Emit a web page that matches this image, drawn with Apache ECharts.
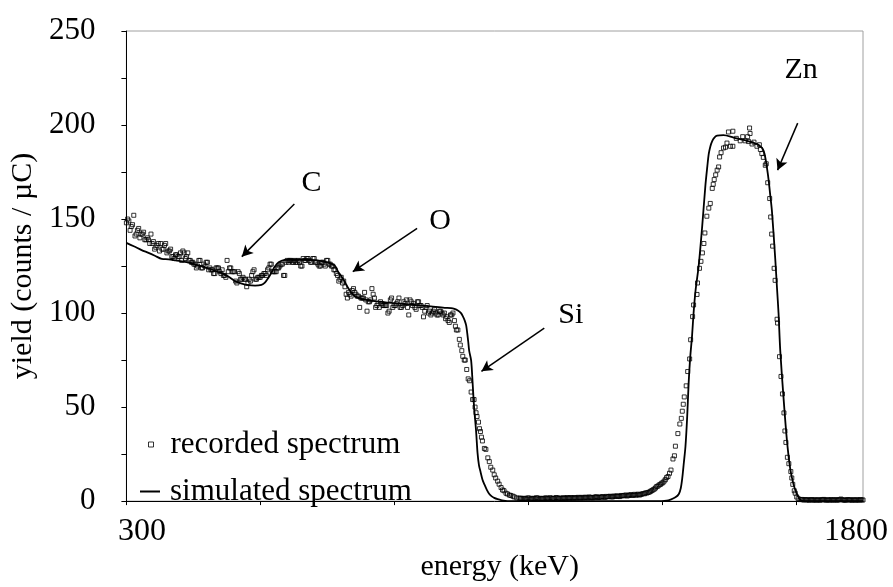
<!DOCTYPE html>
<html>
<head>
<meta charset="utf-8">
<script src="https://cdn.jsdelivr.net/npm/echarts@6/dist/echarts.min.js"></script>
<style>html,body{margin:0;padding:0;background:#fff}#c{width:893px;height:587px}</style>
</head>
<body>
<div id="c"></div>
<script>
// ---- data ----
const xTickValues = [300, 573, 845, 1118, 1391, 1664];
const xLabelValues = [300, 1800];

const recordedLow = [[300,148],[305,149],[310,146],[315,152],[320,142],[325,145],[330,142],[335,143],[340,139],[345,139],[350,142],[355,138],[360,135],[365,137],[370,137],[375,134],[380,137],[385,133],[390,134],[395,130],[400,131],[405,130],[410,132],[415,133],[420,129],[425,132],[430,128],[435,127],[440,126],[445,125],[450,128],[455,124],[460,125],[465,127],[470,124],[475,123],[480,121],[485,124],[490,122],[495,123],[500,120],[505,128],[510,124],[515,122],[520,122],[525,116],[530,121],[535,118],[540,118],[545,114],[550,118],[555,120],[560,123],[565,118],[570,119],[575,120],[580,121],[585,120],[590,124],[595,126],[600,122],[605,122],[610,124],[615,126],[620,120],[625,127],[630,127],[635,128],[640,127],[645,127],[650,128],[655,125],[660,129],[665,128],[670,129],[675,127],[680,129],[685,127],[690,126],[695,125],[700,127],[705,125],[710,128],[715,126],[720,125],[725,123],[730,120],[735,118],[740,116]];

const recordedLowB = [[302.5,150],[307.5,144],[312.5,147],[317.5,141],[322.5,144],[327.5,140],[332.5,142],[337.5,139],[342.5,140],[347.5,137],[352.5,137],[357.5,134],[362.5,136],[367.5,133],[372.5,134],[377.5,136],[382.5,132],[387.5,133],[392.5,130],[397.5,129],[402.5,131],[407.5,130],[412.5,128],[417.5,132],[422.5,130],[427.5,128],[432.5,127],[437.5,126],[442.5,124],[447.5,128],[452.5,124],[457.5,126],[462.5,127],[467.5,123],[472.5,123],[477.5,121],[482.5,124],[487.5,124],[492.5,121],[497.5,120],[502.5,119],[507.5,122],[512.5,124],[517.5,122],[522.5,117],[527.5,122],[532.5,118],[537.5,119],[542.5,118],[547.5,116],[552.5,117],[557.5,122],[562.5,118],[567.5,119],[572.5,119],[577.5,120],[582.5,121],[587.5,123],[592.5,126],[597.5,122],[602.5,122],[607.5,124],[612.5,125],[617.5,126],[622.5,120],[627.5,128],[632.5,128],[637.5,127],[642.5,128],[647.5,127],[652.5,127],[657.5,125],[662.5,128],[667.5,129],[672.5,128],[677.5,127],[682.5,129],[687.5,127],[692.5,125],[697.5,127],[702.5,126],[707.5,128],[712.5,126],[717.5,125],[722.5,123],[727.5,121],[732.5,117],[737.5,119],[742.5,117],[747.5,110],[752.5,111],[757.5,109],[762.5,113],[767.5,110],[772.5,109],[777.5,108],[782.5,108],[787.5,107],[792.5,106],[797.5,107],[802.5,110],[807.5,103],[812.5,105],[817.5,106],[822.5,104],[827.5,104],[832.5,100],[837.5,107],[842.5,103],[847.5,104],[852.5,106],[857.5,103],[862.5,104],[867.5,105],[872.5,103],[877.5,107],[882.5,104],[887.5,103],[892.5,106],[897.5,104],[902.5,103],[907.5,101],[912.5,104],[917.5,101],[922.5,100],[927.5,102],[932.5,99],[937.5,101],[942.5,100],[947.5,100],[952.5,98],[957.5,95],[962.5,99]];

const recordedSi = [[745,114],[750,108],[755,110],[760,112],[765,111],[770,109],[775,103],[780,108],[785,111],[790,101],[795,106],[800,113],[805,108],[810,104],[815,103],[820,105],[825,104],[830,104],[835,101],[840,108],[845,104],[850,105],[855,108],[860,103],[865,106],[870,107],[875,99],[880,106],[885,105],[890,102],[895,106],[900,104],[905,98],[910,103],[915,100],[920,99],[925,101],[930,100],[935,99],[940,101],[945,99],[950,97],[955,96],[960,99],[965,100],[968,96],[970,93],[972,91],[975,91],[978,86],[980,83],[983,80],[985,77],[988,75],[990,75],[993,70],[996,65],[999,64],[1002,58],[1005,54],[1008,54],[1010,50],[1012,47],[1014,45],[1017,42],[1019,38.5],[1021,37],[1023,34],[1025,32],[1029,28],[1032,27.5],[1036,23],[1039,21],[1042,18],[1046,16.5],[1049,14],[1052,12.3],[1056,10.6],[1059,9],[1063,7.2],[1066,5.9],[1069,5.5],[1073,4.2],[1076,3.8],[1080,3.2],[1083,3],[1087,2.6],[1090,2.2],[1095,1.7],[1100,1.5]];

const recordedFlat = [[1105,1.3],[1110,1.5],[1115,1.0],[1120,1.6],[1125,1.2],[1130,1.4],[1135,1.8],[1140,1.1],[1145,1.5],[1150,1.3],[1155,1.7],[1160,1.2],[1165,1.6],[1170,1.4],[1175,1.9],[1180,1.3],[1185,1.5],[1190,1.8],[1195,1.4],[1200,1.6],[1205,1.9],[1210,1.5],[1215,1.7],[1220,2.0],[1225,1.6],[1230,1.8],[1235,2.1],[1240,1.7],[1245,2.0],[1250,1.8],[1255,2.2],[1260,1.9],[1265,2.1],[1270,2.4],[1275,2.0],[1280,2.3],[1285,2.6],[1290,2.2],[1295,2.5],[1300,2.8],[1305,2.4],[1310,2.9],[1315,3.1],[1320,2.7],[1325,3.3],[1330,3.0],[1335,3.6],[1340,3.4],[1345,3.2],[1350,3.8],[1355,3.9],[1360,4.3],[1365,4.8],[1370,5.6],[1375,6.4],[1380,7.8],[1385,8.6],[1390,9.5],[1395,10.6]];

const recordedFlatB = [[1102.5,1.6],[1107.5,1.2],[1112.5,1.4],[1117.5,1.7],[1122.5,1.1],[1127.5,1.5],[1132.5,1.3],[1137.5,1.6],[1142.5,1.4],[1147.5,1.2],[1152.5,1.6],[1157.5,1.4],[1162.5,1.8],[1167.5,1.3],[1172.5,1.5],[1177.5,1.7],[1182.5,1.6],[1187.5,1.4],[1192.5,1.6],[1197.5,1.9],[1202.5,1.5],[1207.5,1.7],[1212.5,1.9],[1217.5,1.6],[1222.5,1.8],[1227.5,2.0],[1232.5,1.7],[1237.5,1.9],[1242.5,2.2],[1247.5,1.8],[1252.5,2.0],[1257.5,2.3],[1262.5,2.0],[1267.5,2.2],[1272.5,2.1],[1277.5,2.5],[1282.5,2.4],[1287.5,2.3],[1292.5,2.7],[1297.5,2.6],[1302.5,2.5],[1307.5,3.0],[1312.5,2.8],[1317.5,3.2],[1322.5,3.0],[1327.5,3.4],[1332.5,3.2],[1337.5,3.1],[1342.5,3.7],[1347.5,3.5],[1352.5,4.0],[1357.5,4.4],[1362.5,4.6],[1367.5,5.2],[1372.5,6.0],[1377.5,7.0],[1382.5,8.0],[1387.5,8.9],[1392.5,9.8],[1397.5,11.4]];

const recordedZn = [[1400,12.5],[1403,13.1],[1406,14.8],[1409,16.5],[1413,22.4],[1416,24.1],[1418,29.2],[1423,35.9],[1427,41],[1430,44],[1432,47.8],[1434,51.5],[1436,55.4],[1440,61.3],[1443,68.9],[1447,75.6],[1449,85.8],[1453,98.1],[1455,104.3],[1462,109.9],[1463,116],[1467,123.8],[1470,127.5],[1473,132],[1476,137],[1478,142.6],[1482,151.5],[1486,155.8],[1489,158.3],[1493,166.3],[1495,168.5],[1497,171],[1500,173.5],[1503,176],[1506,177.7],[1508,183],[1511,185.3],[1516,187.8],[1520,188.2],[1523,190.4],[1526,196.3],[1530,188.7],[1535,188.7],[1535,196.7],[1542,192.9],[1550,191.6],[1555,193.8],[1560,191.6],[1565,193.8],[1567,191.2],[1569,198.4],[1570,195.5],[1574,189.9],[1578,190.9],[1584,188.7],[1589,189.5],[1591,187],[1594,184.8],[1597,182.8],[1601,178.6],[1603,179.4],[1606,169.3],[1610,160.9],[1612,151.1],[1614,142],[1616,135.6],[1619,123.8],[1621,117.4],[1625,96.7],[1626,94.7],[1630,76.8],[1633,66.3],[1636,57],[1639,46.9],[1641,37.3],[1643,31.2],[1646,23.3],[1649,19.9],[1653,15.7],[1655,12.3],[1657,8.9],[1660,5.5],[1662,4.2],[1665,2.2],[1668,1.3],[1672,0.8]];

const recordedTail = [[1675,0.9],[1677.5,0.7],[1680,0.6],[1682.5,0.8],[1685,0.7],[1687.5,0.6],[1690,0.5],[1692.5,0.7],[1695,0.8],[1697.5,0.5],[1700,0.6],[1702.5,0.7],[1705,0.5],[1707.5,0.6],[1710,0.7],[1712.5,0.5],[1715,0.6],[1717.5,0.8],[1720,0.9],[1722.5,0.6],[1725,0.5],[1727.5,0.7],[1730,0.6],[1732.5,0.5],[1735,0.8],[1737.5,0.6],[1740,0.5],[1742.5,0.7],[1745,0.7],[1747.5,0.5],[1750,0.6],[1752.5,0.8],[1755,1.1],[1757.5,0.7],[1760,0.6],[1762.5,0.5],[1765,0.5],[1767.5,0.7],[1770,0.8],[1772.5,0.6],[1775,0.6],[1777.5,0.5],[1780,0.7],[1782.5,0.6],[1785,0.5],[1787.5,0.7],[1790,0.6],[1792.5,0.5],[1795,0.8],[1797.5,0.6],[1800,0.6]];

const simulated = [[300,137.3],[315,135.5],[331,133.5],[345,132],[358,130.5],[372,128.8],[386,128.6],[400,128],[426,126.8],[447,125.3],[467,123.7],[494,121.2],[510,119],[521,117],[535,115.6],[548,114.8],[562,114.6],[575,115],[582,116.2],[589,118.7],[596,121.8],[602,124.6],[610,127],[622,128.3],[640,128.5],[656,128.5],[683,128.1],[700,127.5],[711,126.8],[724,125.4],[731,122],[738,119.5],[744,117],[750,114],[755,112],[765,108.9],[775,107.8],[785,107.2],[819,106],[853,105.1],[887,104.3],[920,103.5],[948,102.8],[961,102.6],[968,102.2],[975,101.4],[981,100.1],[985,98.4],[989,96],[992,93.3],[996,85],[998,80],[1002,74.8],[1005,63],[1008,50],[1012,37.6],[1015,25.8],[1018,19],[1021,15.7],[1025,11.5],[1029,8.9],[1034,6],[1039,3.8],[1044,2.5],[1049,1.7],[1056,1],[1063,0.5],[1076,0],[1390,0],[1400,0.2],[1408,0.8],[1418,2],[1425,3.8],[1429,7],[1432,12.3],[1435,20],[1438.5,29.2],[1442,45],[1445,63],[1448,76],[1452,88.3],[1455,100],[1459,112],[1465.5,125.4],[1472.4,145.7],[1479,167.6],[1483,178],[1485.8,184.5],[1489,188.5],[1492.7,191.3],[1497,193.2],[1502.9,194.3],[1516,194.6],[1536.6,193.3],[1563.8,191.6],[1584,189.9],[1594.3,187.9],[1598,186],[1601,182.8],[1604,178],[1607.7,171],[1611,163],[1614.6,154.1],[1621.3,128.8],[1624.8,113.6],[1628,100],[1631.5,80],[1638.3,54.5],[1645,32.6],[1651.7,17.4],[1658.5,8.9],[1665.3,3.8],[1672,0.8],[1679,0],[1800,0]];

// annotation labels and arrows (data coordinates)
const annotLabels = [{name:'C', coord:[677,169]},{name:'O', coord:[939,149]},{name:'Si', coord:[1205,99]},{name:'Zn', coord:[1674,229]}];
const annotArrows = [[[642,158],[535,130]],[[892,145],[761,122]],[[1151,92],[1023,69]],[[1667,201],[1626,176]]];

const recorded = [].concat(recordedLow, recordedLowB, recordedSi, recordedFlat, recordedFlatB, recordedZn, recordedTail);

const FONT = "'Liberation Serif','Times New Roman',serif";
const chart = echarts.init(document.getElementById('c'), null, {renderer:'canvas'});
chart.setOption({
  animation: false,
  backgroundColor: '#fff',
  textStyle: {fontFamily: FONT, color: '#000'},
  grid: {left: 124, right: 30, top: 31, bottom: 63, show: true, borderColor: '#a0a0a0', borderWidth: 1, backgroundColor: 'transparent'},
  legend: [
    {data: ['recorded spectrum'], orient: 'vertical', left: 143, top: 424, itemWidth: 5, itemHeight: 5, icon: 'rect',
     itemStyle: {color: 'rgba(0,0,0,0)', borderColor: '#000', borderWidth: 1},
     textStyle: {fontFamily: FONT, fontSize: 31, color: '#000', padding: [0,0,0,12]}},
    {data: ['simulated spectrum'], orient: 'vertical', left: 135, top: 471, itemWidth: 20, itemHeight: 2, icon: 'rect',
     itemStyle: {color: '#000', borderWidth: 0},
     textStyle: {fontFamily: FONT, fontSize: 31, color: '#000', padding: [0,0,0,5]}}
  ],
  xAxis: {
    type: 'value', min: 300, max: 1800,
    name: 'energy (keV)', nameLocation: 'middle', nameGap: 30,
    nameTextStyle: {fontFamily: FONT, fontSize: 30, color: '#000', padding: [0,0,0,10]},
    axisLine: {show: true, lineStyle: {color: '#000', width: 1}},
    axisTick: {show: true, inside: false, length: 4, customValues: xTickValues, lineStyle: {color: '#000'}},
    axisLabel: {show: true, customValues: xLabelValues, margin: 14, fontFamily: FONT, fontSize: 32, color: '#000',
      formatter: function(v){ return v === 300 ? '{a|300}' : '{b|1800}'; },
      rich: {a: {fontFamily: FONT, fontSize: 32, color:'#000', padding: [0,0,0,31]},
             b: {fontFamily: FONT, fontSize: 32, color:'#000', padding: [0,14,0,0]}}},
    splitLine: {show: false}
  },
  yAxis: {
    type: 'value', min: 0, max: 250, interval: 25,
    name: 'yield (counts / µC)', nameLocation: 'middle', nameGap: 82, nameRotate: 90,
    nameTextStyle: {fontFamily: FONT, fontSize: 30, color: '#000'},
    axisLine: {show: true, lineStyle: {color: '#000', width: 1}},
    axisTick: {show: true, inside: false, length: 5, lineStyle: {color: '#000'}},
    axisLabel: {margin: 31, fontFamily: FONT, fontSize: 31, color: '#000',
      formatter: function(v){ return v % 50 === 0 ? String(v) : ''; }},
    splitLine: {show: false}
  },
  series: [
    {
      name: 'recorded spectrum', type: 'scatter', data: recorded,
      symbol: 'rect', symbolSize: 4, z: 2,
      itemStyle: {color: 'rgba(0,0,0,0)', borderColor: '#000', borderWidth: 1}
    },
    {
      name: 'simulated spectrum', type: 'line', data: simulated,
      showSymbol: false, smooth: 0.3, z: 3,
      lineStyle: {color: '#000', width: 1.8},
      itemStyle: {color: '#000'},
      markLine: {
        silent: true, symbol: ['none', 'arrow'], symbolSize: [9, 11], animation: false,
        lineStyle: {color: '#000', width: 1.5, type: 'solid'},
        label: {show: false},
        data: annotArrows.map(a => [{coord: a[0]}, {coord: a[1]}])
      },
      markPoint: {
        silent: true, symbol: 'circle', symbolSize: 1, itemStyle: {color: 'rgba(0,0,0,0)'},
        label: {show: true, position: 'inside', formatter: '{b}', fontFamily: FONT, fontSize: 30, color: '#000'},
        data: annotLabels.map(l => ({name: l.name, coord: l.coord}))
      }
    }
  ]
});
</script>
</body>
</html>
